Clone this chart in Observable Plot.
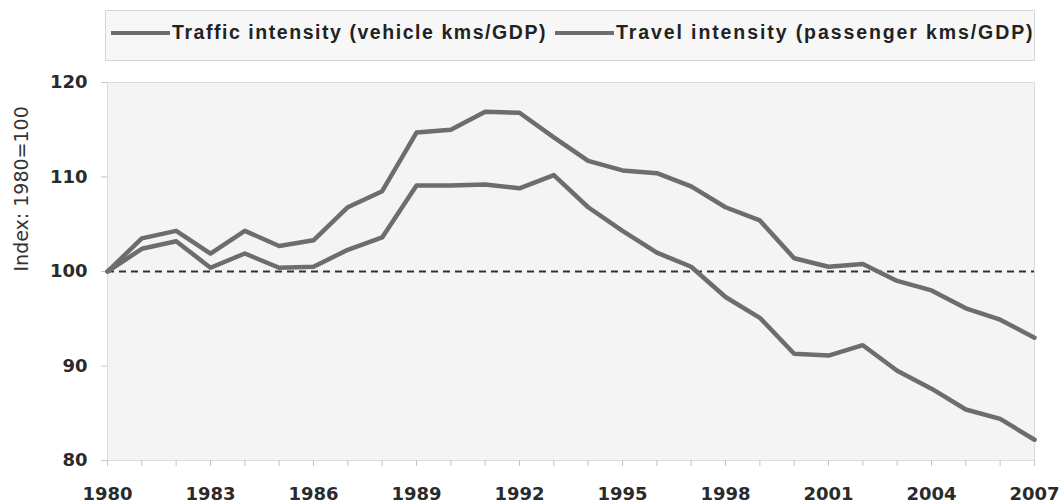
<!DOCTYPE html>
<html>
<head>
<meta charset="utf-8">
<script src="https://cdn.jsdelivr.net/npm/d3@7"></script>
<script src="https://cdn.jsdelivr.net/npm/@observablehq/plot@0.6"></script>
<style>
  html, body { margin: 0; padding: 0; background: #ffffff; }
  #wrap { width: 1062px; height: 503px; position: relative; overflow: hidden; }
  #legend { position: relative; height: 70px; width: 1062px; }
  #legend .box { position: absolute; left: 105px; top: 10px; width: 930px; height: 51px;
    border: 1px solid #d6d6d6; background: #f7f7f7; box-sizing: border-box; }
  #legend .item { position: absolute; top: 21px; display: flex; align-items: center;
    font-family: "Liberation Sans", Arial, sans-serif; font-weight: bold; font-size: 19.5px; color: #222; white-space: nowrap; }
  #legend .sw { display: inline-block; width: 59px; height: 4px; background: #6d6d6d; margin-right: 2px; }
</style>
</head>
<body>
<div id="wrap">
  <div id="legend"><div class="box"></div></div>
  <div id="chart"></div>
</div>
<script>
const years = [1980,1981,1982,1983,1984,1985,1986,1987,1988,1989,1990,1991,1992,1993,
               1994,1995,1996,1997,1998,1999,2000,2001,2002,2003,2004,2005,2006,2007];
const seriesNames = ["Traffic intensity (vehicle kms/GDP)", "Travel intensity (passenger kms/GDP)"];
const trafficIntensity = [100,103.5,104.3,101.9,104.3,102.7,103.3,106.8,108.5,114.7,115.0,116.9,116.8,114.2,
                          111.7,110.7,110.4,109.0,106.8,105.4,101.4,100.5,100.8,99.0,98.0,96.1,94.9,93.0];
const travelIntensity  = [100,102.4,103.2,100.4,101.9,100.4,100.5,102.3,103.6,109.1,109.1,109.2,108.8,110.2,
                          106.8,104.3,102.0,100.5,97.3,95.1,91.3,91.1,92.2,89.5,87.6,85.4,84.4,82.2];
const yTicks = [80, 90, 100, 110, 120];
const xLabelTicks = [1980,1983,1986,1989,1992,1995,1998,2001,2004,2007];
const baseline = 100;
const yLabel = "Index: 1980=100";
const lineColor = "#6d6d6d";

// legend
const legend = document.getElementById("legend");
const legendLefts = [111, 555];
const legendSpacing = ["1.55px", "1.9px"];
seriesNames.forEach((name, i) => {
  const it = document.createElement("div");
  it.className = "item";
  it.style.left = legendLefts[i] + "px";
  it.style.letterSpacing = legendSpacing[i];
  it.innerHTML = `<span class="sw"></span><span>${name}</span>`;
  legend.appendChild(it);
});

const data = [];
years.forEach((y, i) => {
  data.push({year: y, value: trafficIntensity[i], series: seriesNames[0]});
  data.push({year: y, value: travelIntensity[i], series: seriesNames[1]});
});

const chart = Plot.plot({
  width: 1062,
  height: 433,
  marginLeft: 107,
  marginRight: 28,
  marginTop: 12,
  marginBottom: 43,
  style: {fontFamily: "DejaVu Sans, sans-serif", fontSize: "18px", fontWeight: "bold", background: "transparent", color: "#333", overflow: "visible"},
  x: {domain: [1980, 2007]},
  y: {domain: [80, 120]},
  marks: [
    Plot.frame({fill: "#f4f4f4", stroke: "#dcdcdc"}),
    Plot.axisX({ticks: years, tickSize: 6, tickFormat: null, text: null, stroke: "#c4c4c4", label: null}),
    Plot.axisX({ticks: xLabelTicks, tickSize: 0, tickPadding: 27, tickFormat: "d", fill: "#2a2a2a", label: null}),
    Plot.axisY({ticks: yTicks, tickSize: 6, text: null, stroke: "#c4c4c4", label: null}),
    Plot.axisY({ticks: yTicks, tickSize: 0, tickPadding: 20, fill: "#2a2a2a", label: null}),
    Plot.text([yLabel], {frameAnchor: "left", dx: -86, rotate: -90, fontWeight: "normal", fontSize: 19, fill: "#333"}),
    Plot.ruleY([baseline], {stroke: "#333", strokeWidth: 2, strokeDasharray: "7,5"}),
    Plot.lineY(data, {x: "year", y: "value", z: "series", stroke: lineColor, strokeWidth: 4.5, strokeLinejoin: "round"})
  ]
});
document.getElementById("chart").appendChild(chart);
</script>
</body>
</html>
